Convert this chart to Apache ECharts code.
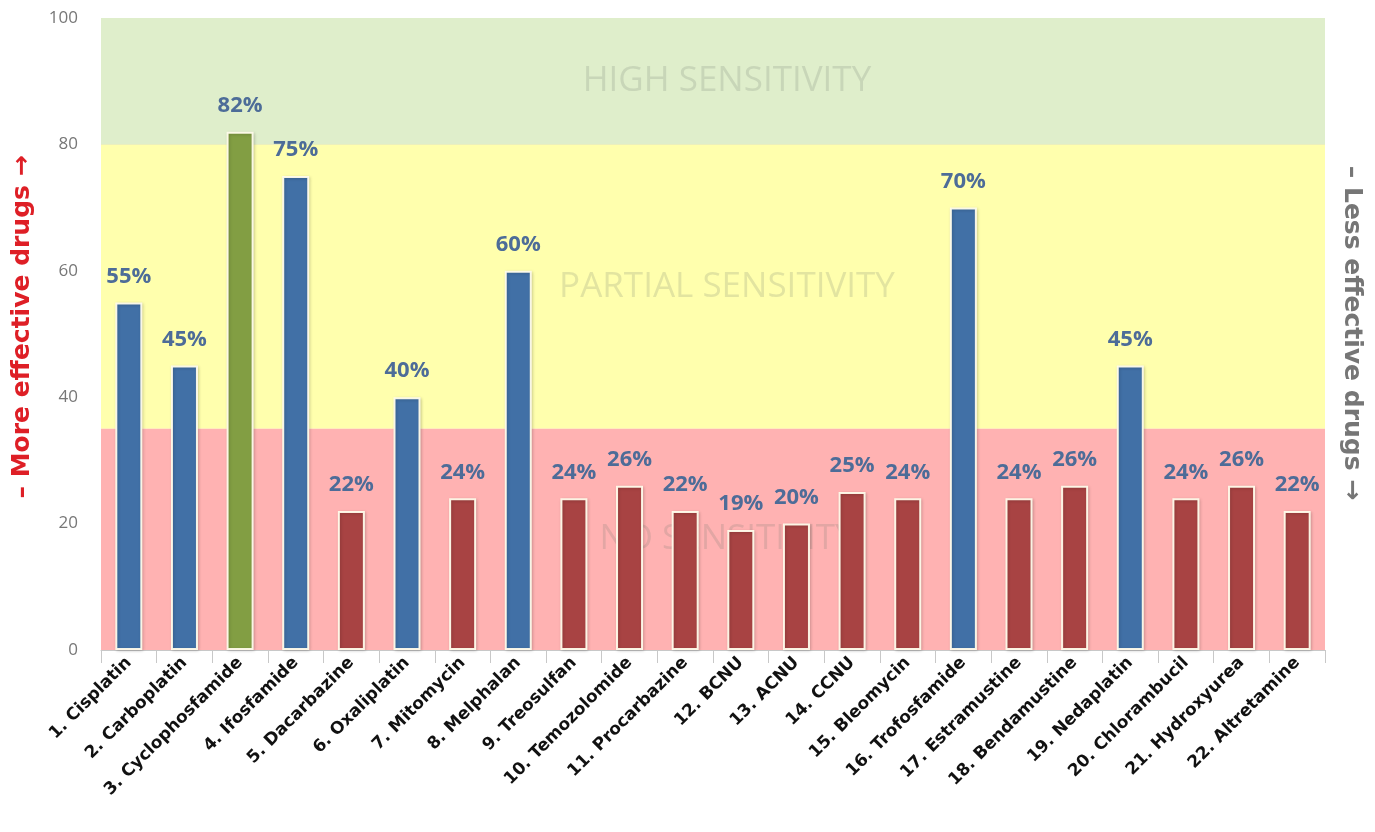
<!DOCTYPE html>
<html>
<head>
<meta charset="utf-8">
<title>Drug sensitivity</title>
<script src="https://cdn.jsdelivr.net/npm/echarts@6/dist/echarts.min.js"></script>
<style>
  html, body { margin: 0; padding: 0; background: #ffffff; }
  #chart { width: 1375px; height: 832px; }
</style>
</head>
<body>
<div id="chart"></div>
<script>
// Drug names along the x axis
const drugs = [
  '1. Cisplatin', '2. Carboplatin', '3. Cyclophosfamide', '4. Ifosfamide',
  '5. Dacarbazine', '6. Oxaliplatin', '7. Mitomycin', '8. Melphalan',
  '9. Treosulfan', '10. Temozolomide', '11. Procarbazine', '12. BCNU',
  '13. ACNU', '14. CCNU', '15. Bleomycin', '16. Trofosfamide',
  '17. Estramustine', '18. Bendamustine', '19. Nedaplatin', '20. Chlorambucil',
  '21. Hydroxyurea', '22. Altretamine'
];

// Sensitivity score per drug (%)
const sensitivity = [55, 45, 82, 75, 22, 40, 24, 60, 24, 26, 22, 19, 20, 25, 24, 70, 24, 26, 45, 24, 26, 22];

// Sensitivity bands: [from, to, label]
const bands = [
  [80, 100, 'HIGH SENSITIVITY'],
  [35, 80, 'PARTIAL SENSITIVITY'],
  [0, 35, 'NO SENSITIVITY']
];

// Value-axis ticks
const yTicks = [0, 20, 40, 60, 80, 100];

const FONT = '"Open Sans", "DejaVu Sans", sans-serif';
const bandFill = ['#dfeecb', '#ffffad', '#ffb2b2'];
const barFill = { high: '#829e43', partial: '#4170a6', none: '#a84343' };

function barColor(v) {
  if (v >= bands[0][0]) return barFill.high;
  if (v >= bands[1][0]) return barFill.partial;
  return barFill.none;
}

const chart = echarts.init(document.getElementById('chart'));

chart.setOption({
  animation: false,
  backgroundColor: '#ffffff',
  grid: { left: 101, right: 50, top: 18, bottom: 182, containLabel: false },
  xAxis: {
    type: 'category',
    data: drugs,
    boundaryGap: true,
    axisLine: { show: true, lineStyle: { color: '#c8c8c8', width: 1 } },
    axisTick: { show: true, interval: 0, length: 13, lineStyle: { color: '#c8c8c8' } },
    axisLabel: {
      interval: 0, rotate: 45, margin: 10,
      color: '#111111', fontFamily: 'DejaVu Sans', fontWeight: 'bold', fontSize: 17
    },
    splitLine: { show: false }
  },
  yAxis: {
    type: 'value',
    min: yTicks[0], max: yTicks[yTicks.length - 1], interval: 20,
    axisLine: { show: false },
    axisTick: { show: false },
    axisLabel: { color: '#777777', fontFamily: FONT, fontSize: 17, margin: 23 },
    splitLine: { show: true, lineStyle: { color: '#cfcfcf', width: 1 } }
  },
  series: [
    {
      // Background bands, drawn beneath the grid lines
      type: 'line',
      data: drugs.map(() => null),
      silent: true,
      z: -1,
      showSymbol: false,
      markArea: {
        silent: true,
        label: {
          show: true, position: 'inside', offset: [14, 0],
          fontFamily: FONT, fontSize: 35,
          color: 'rgba(110,120,110,0.2)'
        },
        data: bands.map((b, i) => [
          { yAxis: b[0], name: b[2], itemStyle: { color: bandFill[i], opacity: 1 } },
          { yAxis: b[1] }
        ])
      }
    },
    {
      type: 'bar',
      z: 3,
      barWidth: 27,
      data: sensitivity.map(v => ({ value: v, itemStyle: { color: barColor(v) } })),
      itemStyle: {
        borderColor: 'rgba(255,252,235,0.95)',
        borderWidth: 2,
        shadowColor: 'rgba(0,0,0,0.18)',
        shadowBlur: 3,
        shadowOffsetX: 1,
        shadowOffsetY: 1
      },
      label: {
        show: true, position: 'top', distance: 15,
        formatter: p => p.value + '%',
        color: '#4d6c98', fontFamily: FONT, fontWeight: 'bold', fontSize: 22
      }
    }
  ],
  graphic: [
    {
      type: 'text', x: 22, y: 327, rotation: Math.PI / 2,
      style: {
        text: '– More effective drugs →', textAlign: 'center', textVerticalAlign: 'middle',
        fill: '#de1f26', font: 'bold 25px "DejaVu Sans", sans-serif'
      }
    },
    {
      type: 'text', x: 1351, y: 333, rotation: -Math.PI / 2,
      style: {
        text: '– Less effective drugs →', textAlign: 'center', textVerticalAlign: 'middle',
        fill: '#767676', font: 'bold 25px "DejaVu Sans", sans-serif'
      }
    }
  ]
});
</script>
</body>
</html>
